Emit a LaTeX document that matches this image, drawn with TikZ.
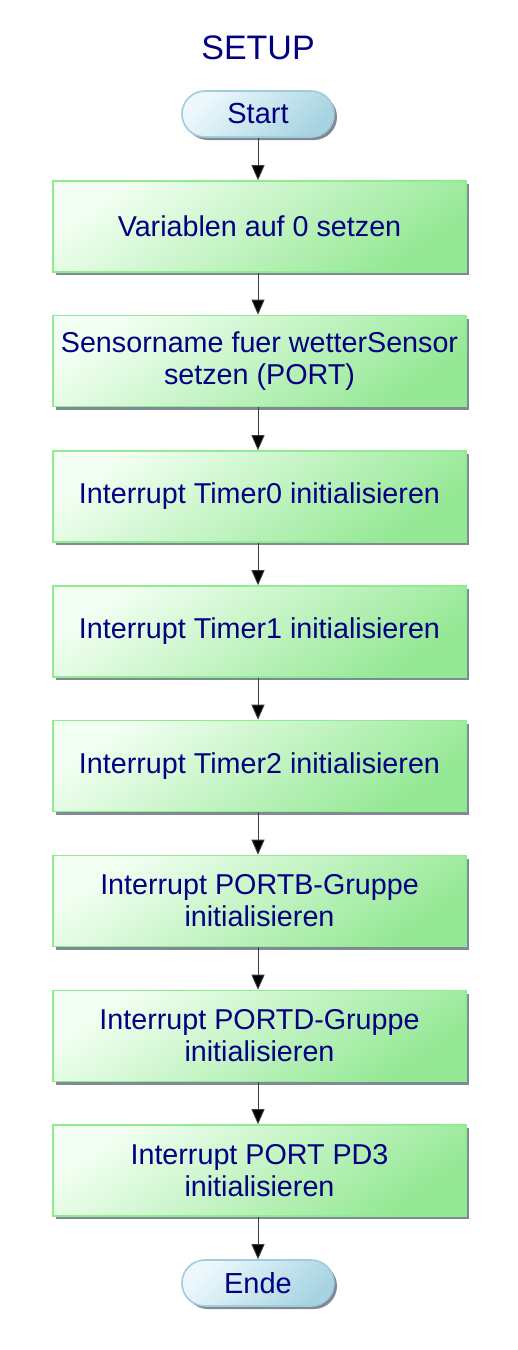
\documentclass[tikz,border=0pt]{standalone}
\usepackage{fontspec}
\setmainfont{Liberation Sans}
\usetikzlibrary{arrows.meta,shadows}
\definecolor{txt}{RGB}{0,0,128}
\definecolor{gl}{RGB}{242,255,242}
\definecolor{gd}{RGB}{148,232,148}
\definecolor{gb}{RGB}{144,236,144}
\definecolor{bl}{RGB}{238,248,252}
\definecolor{bd}{RGB}{168,212,226}
\definecolor{bb}{RGB}{160,204,220}
\definecolor{shd}{RGB}{128,138,150}
\definecolor{ln}{RGB}{60,60,60}
\begin{document}
\begin{tikzpicture}[x=1pt,y=-1pt,
  procbox/.style={draw=gb, line width=1.6pt, top color=gl, bottom color=gd, shading angle=35,
    minimum width=413pt, minimum height=91pt, inner sep=0pt, align=center,
    text=txt, font=\fontsize{28.7}{32}\selectfont,
    drop shadow={shadow xshift=3pt, shadow yshift=-3pt, fill=shd, opacity=1}},
  termbox/.style={draw=bb, line width=1.6pt, top color=bl, bottom color=bd, shading angle=45,
    rounded corners=23pt, minimum width=152pt, minimum height=46pt, inner sep=0pt,
    text=txt, font=\fontsize{29}{32}\selectfont,
    drop shadow={shadow xshift=3pt, shadow yshift=-3pt, fill=shd, opacity=1}},
  flow/.style={draw=ln, line width=0.9pt, -{Triangle[width=13pt,length=15pt,fill=black]}}
]
\useasboundingbox (0,0) rectangle (517,1350);
\node[text=txt, font=\fontsize{34}{36}\selectfont] (title) at (258,48) {SETUP};
\node[termbox] (start) at (258,114) {Start};
\node[procbox] (b1) at (259.5,226.5) {Variablen auf 0 setzen};
\node[procbox] (b2) at (259.5,361) {Sensorname fuer wetterSensor\\setzen (PORT)};
\node[procbox] (b3) at (259.5,496.5) {Interrupt Timer0 initialisieren};
\node[procbox] (b4) at (259.5,631.5) {Interrupt Timer1 initialisieren};
\node[procbox] (b5) at (259.5,766) {Interrupt Timer2 initialisieren};
\node[procbox] (b6) at (259.5,901) {Interrupt PORTB-Gruppe\\initialisieren};
\node[procbox] (b7) at (259.5,1036) {Interrupt PORTD-Gruppe\\initialisieren};
\node[procbox] (b8) at (259.5,1170.5) {Interrupt PORT PD3\\initialisieren};
\node[termbox] (ende) at (258,1283) {Ende};
\draw[flow] (start.south) -- (b1.north -| start.south);
\foreach \a/\b in {b1/b2,b2/b3,b3/b4,b4/b5,b5/b6,b6/b7,b7/b8}{
  \draw[flow] (\a.south -| start.south) -- (\b.north -| start.south);
}
\draw[flow] (b8.south -| start.south) -- (ende.north);
\end{tikzpicture}
\end{document}
